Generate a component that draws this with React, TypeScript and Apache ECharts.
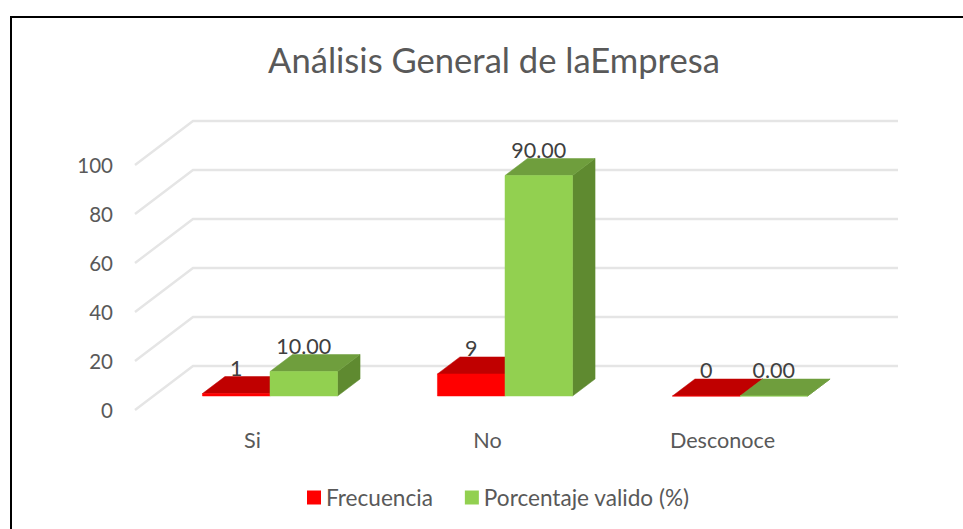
import React, { useEffect, useRef } from "react";
import * as echarts from "echarts";

const titleText = "Análisis General de laEmpresa";
const categories = ["Si", "No", "Desconoce"];
const frecuencia = [1, 9, 0];
const porcentaje = [10, 90, 0];
const yTicks = [0, 20, 40, 60, 80, 100];
const FONT = "Lato";

// wall depth of the fake 3D box and the bar placement inside it
const WALL_DX = 58;
const WALL_DY = -44;
const BAR_INSET_DX = 17.5;
const BAR_INSET_DY = -14;
const BAR_DX = 22.5;
const BAR_DY = -17;
const BAR_RATIO = 0.2875;

function wallItem(params: any, api: any) {
  const cs = params.coordSys;
  const y = api.coord([0, api.value(1)])[1];
  return {
    type: "polyline",
    shape: {
      points: [
        [cs.x, y],
        [cs.x + WALL_DX, y + WALL_DY],
        [cs.x + cs.width + WALL_DX, y + WALL_DY],
      ],
    },
    style: { stroke: "#E5E5E5", lineWidth: 2.4, fill: "none" },
  };
}

function barItem(colors: { front: string; top: string; side: string }, side: number, fmt: (v: number) => string) {
  return (_params: any, api: any) => {
    const cat = api.value(0);
    const val = api.value(1);
    const w = api.size([1, 0])[0] * BAR_RATIO;
    const base = api.coord([cat, 0]);
    const top = api.coord([cat, val]);
    const x0 = base[0] + BAR_INSET_DX + (side < 0 ? -w : 0);
    const x1 = x0 + w;
    const y0 = base[1] + BAR_INSET_DY;
    const y1 = top[1] + BAR_INSET_DY;
    const poly = (points: number[][], fill: string) => ({
      type: "polygon",
      shape: { points },
      style: { fill, stroke: fill, lineWidth: 0.5 },
    });
    return {
      type: "group",
      children: [
        poly([[x1, y0], [x1 + BAR_DX, y0 + BAR_DY], [x1 + BAR_DX, y1 + BAR_DY], [x1, y1]], colors.side),
        poly([[x0, y1], [x1, y1], [x1 + BAR_DX, y1 + BAR_DY], [x0 + BAR_DX, y1 + BAR_DY]], colors.top),
        poly([[x0, y0], [x1, y0], [x1, y1], [x0, y1]], colors.front),
        {
          type: "text",
          style: {
            text: fmt(val),
            x: (x0 + x1) / 2,
            y: y1 - 26,
            textAlign: "center",
            textVerticalAlign: "middle",
            fontSize: 21.5,
            fontFamily: FONT,
            fill: "#404040",
          },
        },
      ],
    };
  };
}

export default function App() {
  const ref = useRef<HTMLDivElement>(null);
  useEffect(() => {
    const chart = echarts.init(ref.current!, undefined, { renderer: "svg" });
    chart.setOption({
      animation: false,
      backgroundColor: "#FFFFFF",
      title: {
        text: titleText,
        left: 489,
        top: 37,
        textAlign: "center",
        textStyle: { fontFamily: FONT, fontSize: 34.6, fontWeight: "normal", color: "#595959" },
      },
      graphic: [
        {
          type: "rect",
          silent: true,
          shape: { x: 11, y: 17, width: 1100, height: 700 },
          style: { fill: "none", stroke: "#000000", lineWidth: 2 },
        },
      ],
      legend: {
        data: ["Frecuencia", "Porcentaje valido (%)"],
        left: 307,
        top: 486,
        padding: 0,
        icon: "rect",
        itemWidth: 14,
        itemHeight: 14,
        itemGap: 32,
        textStyle: { fontFamily: FONT, fontSize: 22.6, color: "#595959" },
      },
      grid: { left: 135, top: 165, width: 705, height: 245 },
      xAxis: {
        type: "category",
        data: categories,
        axisLine: { show: false },
        axisTick: { show: false },
        axisLabel: { margin: 19, fontFamily: FONT, fontSize: 21.6, color: "#595959" },
      },
      yAxis: {
        type: "value",
        min: 0,
        max: 100,
        interval: 20,
        axisLine: { show: false },
        axisTick: { show: false },
        splitLine: { show: false },
        axisLabel: { margin: 22, padding: [6, 0, 0, 0], fontFamily: FONT, fontSize: 20.5, color: "#595959" },
      },
      series: [
        {
          name: "wall",
          type: "custom",
          renderItem: wallItem,
          data: yTicks.map((t) => [0, t]),
          encode: { x: 0, y: 1 },
          silent: true,
          z: 1,
        },
        {
          name: "Frecuencia",
          type: "custom",
          itemStyle: { color: "#FF0000" },
          renderItem: barItem({ front: "#FF0000", top: "#C00000", side: "#A00000" }, -1, (v) => String(v)),
          data: frecuencia.map((v, i) => [i, v]),
          encode: { x: 0, y: 1 },
          z: 2,
        },
        {
          name: "Porcentaje valido (%)",
          type: "custom",
          itemStyle: { color: "#92D050" },
          renderItem: barItem({ front: "#92D050", top: "#6F9E3D", side: "#5F8A30" }, 1, (v) => v.toFixed(2)),
          data: porcentaje.map((v, i) => [i, v]),
          encode: { x: 0, y: 1 },
          z: 3,
        },
      ],
    });
    return () => chart.dispose();
  }, []);
  return <div ref={ref} style={{ position: "absolute", left: 0, top: 0, width: 963, height: 529 }} />;
}
